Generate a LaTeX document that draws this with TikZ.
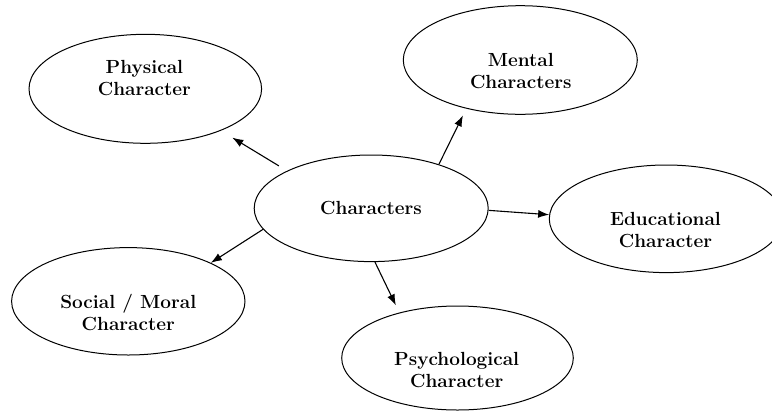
\documentclass[tikz,border=0pt]{standalone}
\usetikzlibrary{shapes.geometric,arrows.meta}
\begin{document}
\begin{tikzpicture}[x=1pt,y=-1pt,
  oval/.style={draw, ellipse, inner sep=0pt, line width=1pt},
  lbl/.style={font=\fontsize{19}{22}\selectfont\bfseries, align=center, inner sep=0pt},
  arr/.style={-{Latex[length=11pt,width=8pt]}, line width=1.1pt}]
\useasboundingbox (0,0) rectangle (772,413);
\clip (0,0) rectangle (772,413);
\fill[white] (0,0) rectangle (772,413);
% ellipses
\node[oval, minimum width=232.6pt, minimum height=109pt]   (p) at (145.3,88.8) {};
\node[oval, minimum width=234pt,   minimum height=108.6pt] (m) at (520.3,60) {};
\node[oval, minimum width=234pt,   minimum height=106.6pt] (c) at (371.2,208.3) {};
\node[oval, minimum width=234pt,   minimum height=107.6pt] (e) at (666.3,218.8) {};
\node[oval, minimum width=233.4pt, minimum height=107.4pt] (s) at (128.3,301.3) {};
\node[oval, minimum width=231.6pt, minimum height=104pt]   (q) at (457.5,358) {};
% labels
\node[lbl] (pt) at (144.4,77.7) {Physical\\Character};
\node[lbl] (mt) at (520.8,71) {Mental\\Characters};
\node[lbl] (ct) at (371,208.4) {Characters};
\node[lbl] (et) at (665.5,230.1) {Educational\\Character};
\node[lbl] (st) at (128.3,312.4) {Social / Moral\\Character};
\node[lbl] (qt) at (456.7,370.5) {Psychological\\Character};
% arrows
\draw[arr, shorten <=9.5pt, shorten >=13.3pt] (c.156) -- (p.331.7);
\draw[arr, shorten >=7.5pt] (c.33) -- (m.222);
\draw[arr] (c.359) -- (e.178.6);
\draw[arr] (c.191.3) -- (s.25.8);
\draw[arr, shorten >=8pt] (c.274) -- (q.142.9);
\end{tikzpicture}
\end{document}
